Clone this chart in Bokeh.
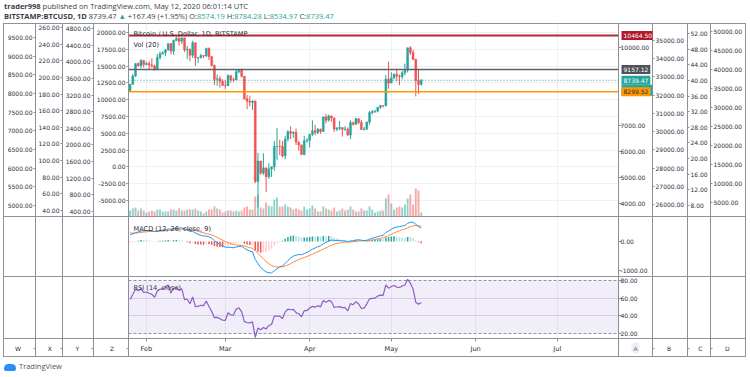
from datetime import datetime, timedelta
from bokeh.plotting import figure
from bokeh.models import (Range1d, LinearAxis, FixedTicker, Grid, PrintfTickFormatter,
                          Label, Span, BoxAnnotation, Div, ColumnDataSource)
from bokeh.layouts import column
from bokeh.embed import file_html
from bokeh.resources import INLINE

# ---------------- data (BITSTAMP:BTCUSD, 1D, 26 Jan - 12 May 2020) ----------------
first_day = datetime(2020, 1, 26)
dates = [first_day + timedelta(days=i) for i in range(108)]

opens = [8340, 8590, 8900, 9380, 9300, 9500, 9350, 9380, 9330, 9290,
         9180, 9620, 9760, 9800, 9900, 10150, 9860, 10270, 10350, 10240,
         10370, 9900, 9930, 9700, 10180, 9600, 9610, 9690, 9670, 9970,
         9650, 9310, 8780, 8800, 8700, 8540, 8530, 8920, 8760, 8750,
         9070, 9150, 8890, 8030, 7930, 7890, 7940, 4850, 5630, 5170,
         5370, 5030, 5330, 5410, 6190, 6200, 6190, 5830, 6480, 6760,
         6700, 6740, 6370, 6250, 5880, 6410, 6430, 6650, 6800, 6730,
         6860, 6770, 7330, 7200, 7370, 7290, 6860, 6890, 6920, 6850,
         6860, 6630, 7110, 7040, 7260, 7120, 6850, 6860, 7130, 7500,
         7540, 7550, 7700, 7770, 7760, 8780, 8630, 8830, 8970, 8900,
         8880, 9030, 9150, 9990, 9810, 9540, 8730, 8574.19]
highs = [8600, 8980, 9390, 9430, 9560, 9520, 9450, 9470, 9590, 9340,
         9750, 9850, 9870, 9950, 10150, 10170, 10300, 10460, 10464.5, 10390,
         10380, 10060, 9960, 10260, 10200, 9640, 9760, 9700, 9990, 10000,
         9660, 9340, 8960, 8900, 8780, 8740, 8970, 8920, 8840, 9150,
         9170, 9190, 8890, 8180, 8150, 7970, 7960, 5950, 5650, 5930,
         5380, 5550, 5420, 6400, 6900, 6450, 6400, 6600, 6830, 6970,
         6780, 6880, 6380, 6260, 6600, 6520, 6680, 7200, 7030, 6900,
         6880, 7350, 7450, 7420, 7380, 7300, 6950, 7180, 6920, 6980,
         6930, 7200, 7150, 7300, 7260, 7210, 6950, 7150, 7560, 7600,
         7600, 7700, 7790, 7780, 8950, 9460, 9050, 9000, 9180, 8960,
         9100, 9380, 9990, 10050, 9910, 9570, 9170, 8784.28]
lows = [8290, 8560, 8870, 9260, 9200, 9230, 9310, 9150, 9220, 9100,
        9160, 9530, 9720, 9670, 9880, 9740, 9710, 10250, 10080, 10130,
        9830, 9550, 9470, 9600, 9300, 9400, 9580, 9590, 9650, 9520,
        9270, 8560, 8530, 8450, 8510, 8410, 8520, 8650, 8670, 8750,
        9010, 8850, 8000, 7630, 7730, 7600, 4780, 3850, 5100, 5100,
        4440, 4950, 5020, 5260, 5680, 5860, 5770, 5700, 6380, 6480,
        6530, 6250, 6030, 5870, 5860, 6340, 6160, 6600, 6620, 6670,
        6680, 6770, 7080, 7150, 7150, 6750, 6780, 6810, 6570, 6800,
        6610, 6480, 7000, 7030, 7060, 6830, 6800, 6840, 7040, 7420,
        7480, 7500, 7640, 7690, 7740, 8420, 8630, 8780, 8700, 8550,
        8780, 8930, 9040, 9720, 9520, 8120, 8210, 8534.97]
closes = [8590, 8900, 9380, 9300, 9500, 9350, 9380, 9330, 9290, 9180,
          9620, 9760, 9800, 9900, 10150, 9860, 10270, 10350, 10240, 10370,
          9900, 9930, 9700, 10180, 9600, 9610, 9690, 9670, 9970, 9650,
          9310, 8780, 8800, 8700, 8540, 8530, 8920, 8760, 8750, 9070,
          9150, 8890, 8030, 7930, 7890, 7940, 4850, 5630, 5170, 5370,
          5030, 5330, 5410, 6190, 6200, 6190, 5830, 6480, 6760, 6700,
          6740, 6370, 6250, 5880, 6410, 6430, 6650, 6800, 6730, 6860,
          6770, 7330, 7200, 7370, 7290, 6860, 6890, 6920, 6850, 6860,
          6630, 7110, 7040, 7260, 7120, 6850, 6860, 7130, 7500, 7540,
          7550, 7700, 7770, 7760, 8780, 8630, 8830, 8970, 8900, 8880,
          9030, 9150, 9990, 9810, 9540, 8730, 8574.19, 8739.47]
volumes = [6000, 8000, 9000, 6000, 8000, 6000, 4000, 5000, 6000, 5000,
           7000, 7000, 5000, 5000, 5000, 7000, 7000, 6000, 8000, 6000,
           6000, 7000, 7000, 7000, 8000, 6000, 5000, 3000, 5000, 7000,
           7000, 10000, 8000, 7000, 4000, 5000, 6000, 6000, 5000, 6000,
           5000, 6000, 9000, 10000, 7000, 7000, 20000, 22000, 9000, 8000,
           14000, 11000, 10000, 17000, 19000, 10000, 10000, 12000, 10000, 9000,
           7000, 8000, 7000, 6000, 10000, 7000, 8000, 11000, 8000, 5000,
           5000, 10000, 8000, 7000, 6000, 9000, 5000, 6000, 8000, 6000,
           7000, 10000, 7000, 5000, 5000, 8000, 6000, 6000, 10000, 7000,
           4000, 5000, 6000, 6000, 18000, 22000, 13000, 7000, 9000, 10000,
           9000, 12000, 18000, 22000, 12000, 28000, 26000, 4000]
macd = [244, 258, 304, 331, 364, 374, 379, 375, 365, 344,
        358, 377, 390, 404, 431, 423, 446, 464, 465, 470,
        432, 399, 350, 347, 293, 249, 218, 190, 189, 161,
        110, 27, -37, -95, -152, -196, -197, -208, -215, -193,
        -167, -165, -231, -287, -332, -358, -622, -759, -895, -975,
        -1053, -1079, -1081, -1007, -937, -873, -841, -755, -656, -576,
        -504, -471, -449, -457, -415, -376, -324, -267, -225, -180,
        -149, -78, -33, 17, 49, 40, 34, 32, 24, 19,
        -4, 16, 26, 52, 60, 44, 32, 43, 81, 113,
        138, 168, 195, 213, 306, 364, 420, 471, 500, 516,
        534, 552, 626, 663, 663, 591, 515, 463]
signal = [300, 291, 294, 301, 314, 326, 336, 344, 348, 348,
          350, 355, 362, 371, 383, 391, 402, 414, 424, 433,
          433, 426, 411, 398, 377, 352, 325, 298, 276, 253,
          225, 185, 141, 93, 44, -4, -42, -75, -103, -121,
          -130, -137, -156, -182, -212, -241, -317, -406, -504, -598,
          -689, -767, -830, -865, -880, -878, -871, -848, -809, -763,
          -711, -663, -620, -587, -553, -518, -479, -437, -394, -351,
          -311, -264, -218, -171, -127, -94, -68, -48, -34, -23,
          -19, -12, -4, 7, 17, 23, 24, 28, 39, 54,
          71, 90, 111, 131, 166, 206, 249, 293, 335, 371,
          404, 433, 472, 510, 541, 551, 543, 527]
histogram = [-56, -33, 10, 30, 50, 48, 43, 31, 17, -4,
             8, 22, 28, 33, 48, 32, 44, 50, 41, 37,
             -1, -27, -61, -51, -84, -103, -107, -108, -87, -92,
             -115, -158, -178, -188, -196, -192, -155, -133, -112, -72,
             -37, -28, -75, -105, -120, -117, -305, -353, -391, -377,
             -364, -312, -251, -142, -57, 5, 30, 93, 153, 187,
             207, 192, 171, 130, 138, 142, 155, 170, 169, 171,
             162, 186, 185, 188, 176, 134, 102, 80, 58, 42,
             15, 28, 30, 45, 43, 21, 8, 15, 42, 59,
             67, 78, 84, 82, 140, 158, 171, 178, 165, 145,
             130, 119, 154, 153, 122, 40, -28, -64]
rsi = [58.6, 64.1, 70.5, 68.3, 70.8, 66.6, 67.0, 65.5, 64.3, 61.0,
       68.1, 70.0, 70.6, 71.9, 75.0, 65.9, 71.2, 72.1, 68.9, 70.6,
       58.3, 58.8, 53.6, 61.3, 50.4, 50.6, 51.9, 51.6, 56.7, 50.5,
       44.9, 37.9, 38.3, 37.0, 35.0, 34.9, 43.5, 41.1, 40.9, 47.6,
       49.1, 44.5, 33.4, 32.4, 32.0, 33.1, 15.5, 26.2, 24.2, 26.8,
       25.2, 29.1, 30.2, 39.6, 39.7, 39.6, 36.8, 44.5, 47.5, 46.9,
       47.3, 43.6, 42.4, 38.9, 45.8, 46.0, 48.8, 50.7, 49.8, 51.5,
       50.2, 57.4, 55.4, 57.5, 56.1, 49.5, 50.0, 50.4, 49.3, 49.4,
       45.5, 53.8, 52.6, 56.0, 53.4, 48.5, 48.7, 53.6, 59.3, 59.8,
       60.0, 62.3, 63.4, 63.1, 74.9, 71.3, 73.2, 74.4, 72.6, 72.1,
       73.7, 74.9, 81.4, 76.8, 70.4, 55.3, 53.0, 55.2]

# horizontal levels and price tags on the A scale
level_red = 10464.50
level_grey = 9157.12
level_orange = 8299.52
last_price = 8739.47
countdown = "17:58:48"

# ticks of the scale columns
w_ticks = list(range(5000, 9501, 500))
x_ticks = list(range(40, 261, 20))
y_ticks = list(range(400, 4801, 400))
z_ticks = list(range(-5000, 20001, 2500))
a_ticks = [4000, 5000, 6000, 7000, 10000]
b_ticks = list(range(26000, 35001, 1000))
c_ticks = list(range(8, 53, 4))
d_ticks = list(range(5000, 50001, 5000))
macd_ticks = [-1000, 0]
rsi_ticks = [20, 40, 60, 80]
rsi_band = (20, 80)
month_starts = [datetime(2020, m, 1) for m in (2, 3, 4, 5, 6, 7)]
month_labels = ["Feb", "Mar", "Apr", "May", "Jun", "Jul"]

# ---------------- style / geometry ----------------
FONT = "DejaVu Sans"
FS = "6px"
AXC = "#8c8f98"
LINE = "#8f929b"
TXC = "#2a2e39"
UP, DN = "#26a69a", "#ef5350"
GRID = "#eef0f4"
EPOCH = datetime(1970, 1, 1)
DAY = 86400000.0


def ms(d):
    return (d - EPOCH).total_seconds() * 1000.0


t = [ms(d) for d in dates]
FIG_W, FIG_H = 747, 334
LB, RB = 128, 95
PLOT_PX, APX = 490, 34            # candle area width, A-column width (inside the frame)
TOP, BOT = 23, 357                # page y of the frame edges; the default y range is page y
SEP_MACD, SEP_RSI, SEP_AXIS = 216, 276, 338
ROW_Y = 347.5
x_lo, x_hi = ms(datetime(2020, 1, 25, 10)), ms(datetime(2020, 7, 23, 12))
KPX = (x_hi - x_lo) / PLOT_PX


def span_range(v0, y0, s):
    """range over the whole frame height with value v0 at page-y y0, s px per unit"""
    return Range1d(start=v0 - (BOT - y0) / s, end=v0 + (y0 - TOP) / s)


def at_row(rng, y):
    return rng.end - (y - TOP) / (BOT - TOP) * (rng.end - rng.start)


def row_of(rng, v):
    return TOP + (rng.end - v) / (rng.end - rng.start) * (BOT - TOP)


R = {"price": span_range(4000, 203, 0.026), "vol": span_range(0, 216, 0.001),
     "z": span_range(20000, 32, 0.00672), "w": span_range(9500, 37, 0.03733),
     "x": span_range(260, 27, 0.8318), "y": span_range(4800, 28, 0.04159),
     "b": span_range(35000, 40, 0.018222), "c": span_range(52, 33, 3.909),
     "d": span_range(50000, 31, 0.0038), "macd": span_range(0, 241, 0.029),
     "rsi": span_range(80, 280, 0.8833)}

p = figure(width=FIG_W, height=FIG_H, x_range=Range1d(x_lo, x_hi + APX * KPX),
           y_range=Range1d(BOT, TOP), x_axis_type="datetime", x_axis_location="below",
           y_axis_location=None, output_backend="svg", toolbar_location=None,
           min_border_left=LB, min_border_right=RB, min_border_top=0, min_border_bottom=0)
p.extra_y_ranges = R
p.background_fill_color = "white"
p.border_fill_color = None
p.outline_line_color = LINE
p.ygrid.grid_line_color = None
p.xgrid.ticker = FixedTicker(ticks=[ms(d) for d in month_starts])
p.xgrid.grid_line_color = GRID
p.xgrid.cross_bounds = (TOP, SEP_AXIS)

# border lines of the scale columns (page background behind the transparent border area)
lay = ["linear-gradient(%s,%s) 3px %dpx / 743px 1px no-repeat" % (LINE, LINE, y - TOP)
       for y in (TOP, SEP_MACD, SEP_RSI, SEP_AXIS, BOT - 1)]
lay += ["linear-gradient(%s,%s) %dpx 0 / 1px 100%% no-repeat" % (LINE, LINE, x) for x in (3, 745)]
p.styles = {"background": ", ".join(lay) + ", white"}


def style(ax):
    ax.major_label_text_font = FONT
    ax.major_label_text_font_size = FS
    ax.major_label_text_color = TXC
    ax.major_tick_in = 0
    ax.major_tick_out = 2
    ax.minor_tick_in = 0
    ax.minor_tick_out = 0
    ax.minor_tick_line_color = None
    ax.major_tick_line_color = AXC
    ax.axis_line_color = AXC
    ax.major_label_standoff = 1


def side_axis(side, rname, ticks, letter):
    rng = R[rname]
    tk = [float(v) for v in ticks]
    lv = at_row(rng, ROW_Y)
    tk.append(lv)
    ax = LinearAxis(y_range_name=rname, ticker=FixedTicker(ticks=tk),
                    formatter=PrintfTickFormatter(format="%.2f"),
                    major_label_overrides={lv: letter})
    style(ax)
    p.add_layout(ax, side)
    return ax


FSP = "\u2007"
side_axis("left", "z", z_ticks, "Z" + FSP * 3)
side_axis("left", "y", y_ticks, "Y" + FSP * 3)
side_axis("left", "x", x_ticks, "X" + FSP * 2)
side_axis("left", "w", w_ticks, "W" + FSP * 3)

# A column lives inside the frame (right of the candle area); its labels hang left of its edge
a_tk = [float(v) for v in a_ticks]
a_ov = {}
for rname, vals in (("macd", macd_ticks), ("rsi", rsi_ticks)):
    for v in vals:
        pv = at_row(R["price"], row_of(R[rname], v))
        a_tk.append(pv)
        a_ov[pv] = "%.2f" % v
a_ax = LinearAxis(y_range_name="price", ticker=FixedTicker(ticks=a_tk),
                  formatter=PrintfTickFormatter(format="%.2f"), major_label_overrides=a_ov)
style(a_ax)
a_ax.major_tick_out = 0
a_ax.major_tick_line_color = None
a_ax.major_label_standoff = -32
p.add_layout(a_ax, "right")
side_axis("right", "b", b_ticks, FSP * 3 + "B")
side_axis("right", "c", c_ticks, FSP * 2 + "C")
side_axis("right", "d", d_ticks, FSP * 3 + "D")
p.add_layout(Grid(dimension=1, ticker=FixedTicker(ticks=a_tk), y_range_name="price",
                  cross_bounds=(x_hi, x_hi + 3 * KPX), grid_line_color=AXC))
p.add_layout(Span(location=x_hi, dimension="height", line_color=AXC, line_width=1))

# time axis: labels drawn up into the bottom row of the frame
xa = p.xaxis[0]
xa.ticker = FixedTicker(ticks=[ms(d) for d in month_starts])
xa.major_label_overrides = {ms(d): lab for d, lab in zip(month_starts, month_labels)}
xa.major_label_text_font = FONT
xa.major_label_text_font_size = "6.6px"
xa.major_label_text_color = TXC
xa.axis_line_color = None
xa.major_tick_line_color = None
xa.minor_tick_line_color = None
xa.major_tick_in = 0
xa.major_tick_out = 0
xa.major_label_standoff = -13
p.add_layout(Grid(dimension=0, ticker=FixedTicker(ticks=[ms(d) for d in month_starts]),
                  cross_bounds=(SEP_AXIS, SEP_AXIS + 3), grid_line_color=AXC))

# pane separators inside the frame
for sy in (SEP_MACD, SEP_RSI, SEP_AXIS):
    p.add_layout(Span(location=sy, dimension="width", line_color=LINE, line_width=1))

# ---------------- main pane ----------------
p.add_layout(Grid(dimension=1, ticker=FixedTicker(ticks=z_ticks), y_range_name="z",
                  cross_bounds=(x_lo, x_hi), grid_line_color=GRID))
col = [UP if c >= o else DN for o, c in zip(opens, closes)]
src = ColumnDataSource(dict(t=t, o=opens, h=highs, l=lows, c=closes, v=volumes, col=col,
                            top=[max(o, c) for o, c in zip(opens, closes)],
                            bot=[min(o, c) for o, c in zip(opens, closes)]))
p.vbar(x="t", width=0.7 * DAY, top="v", bottom=0, source=src, y_range_name="vol",
       fill_color="col", line_color=None, fill_alpha=0.5)
p.segment(x0="t", y0="h", x1="t", y1="l", source=src, y_range_name="price",
          line_color="col", line_width=1)
p.vbar(x="t", width=0.7 * DAY, top="top", bottom="bot", source=src, y_range_name="price",
       fill_color="col", line_color="col", line_width=0.5)


def level(y, color, width, dash="solid", rname="price"):
    p.segment(x0=[x_lo], y0=[y], x1=[x_hi], y1=[y], y_range_name=rname,
              line_color=color, line_width=width, line_dash=dash)


level(level_red, "#b22833", 2)
level(level_grey, "#5d606b", 1.5)
level(last_price, UP, 1, "1 2")
level(level_orange, "#ff9800", 1.5)


def tag(y, text, bg, fg="white", yoff=0):
    p.add_layout(Label(x=x_hi, y=y, y_range_name="price", x_offset=3, y_offset=yoff, text=text,
                       text_font=FONT, text_font_size=FS, text_color=fg,
                       text_align="left", text_baseline="middle",
                       background_fill_color=bg, padding=2))


tag(level_red, "10464.50", "#b2182b")
tag(level_grey, "9157.12", "#4f525d")
tag(last_price, "8739.47", UP)
tag(last_price, countdown, UP, yoff=-10)
tag(level_orange, "8299.52", "#ff9800", fg="#2a2e39")


def pane_title(y, text):
    p.add_layout(Label(x=x_lo, y=y, x_offset=5, text=text, text_font=FONT,
                       text_font_size="6.6px", text_color=TXC,
                       text_align="left", text_baseline="middle"))


pane_title(33, "Bitcoin / U.S. Dollar, 1D, BITSTAMP")
pane_title(44, "Vol (20)")
pane_title(228, "MACD (12, 26, close, 9)")
pane_title(287, "RSI (14, close)")

# ---------------- MACD pane ----------------
hcol = []
for i, hv in enumerate(histogram):
    prev = histogram[i - 1] if i else hv
    if hv >= 0:
        hcol.append("#26a69a" if hv >= prev else "#b2dfdb")
    else:
        hcol.append("#ef5350" if hv < prev else "#ffcdd2")
msrc = ColumnDataSource(dict(t=t, m=macd, s=signal, h=histogram, hc=hcol))
p.vbar(x="t", width=0.55 * DAY, top="h", bottom=0, source=msrc, y_range_name="macd",
       fill_color="hc", line_color=None)
p.line("t", "s", source=msrc, y_range_name="macd", line_color="#ff8a3d", line_width=1)
p.line("t", "m", source=msrc, y_range_name="macd", line_color="#2196f3", line_width=1)

# ---------------- RSI pane ----------------
p.add_layout(Grid(dimension=1, ticker=FixedTicker(ticks=[40, 60]), y_range_name="rsi",
                  cross_bounds=(x_lo, x_hi), grid_line_color="#e3daf0"))
p.add_layout(BoxAnnotation(bottom=rsi_band[0], top=rsi_band[1], right=x_hi, y_range_name="rsi",
                           fill_color="#7e57c2", fill_alpha=0.1, line_color=None))
for lv in rsi_band:
    level(lv, "#9598a1", 1, "3 2", rname="rsi")
p.line(t, rsi, y_range_name="rsi", line_color="#8f5fc8", line_width=1.2)

# letter of the A column in the time-axis row
p.add_layout(Label(x=x_hi, y=ROW_Y, x_offset=APX / 2, text="A", text_font=FONT,
                   text_font_size="6px", text_color="#6a6d78", text_align="center",
                   text_baseline="middle", background_fill_color="#eceef3",
                   padding=2, border_radius=5))

# ---------------- header / footer ----------------
teal = "color:#26a69a"
hdr = Div(width=750, height=TOP, margin=(0, 0, 0, 0), text=(
    "<div style=\"font-family:'Open Sans';font-size:7.5px;line-height:10px;color:#3b3e47;"
    "white-space:nowrap;padding:1px 0 0 4px\">"
    "<b>trader998</b> published on TradingView.com, May 12, 2020 06:01:14 UTC<br>"
    "<b>BITSTAMP:BTCUSD, 1D</b> 8739.47 <span style='" + teal + "'>&#9650;</span> +167.49 (+1.95%) "
    "O:<span style='" + teal + "'>8574.19</span> H:<span style='" + teal + "'>8784.28</span> "
    "L:<span style='" + teal + "'>8534.97</span> C:<span style='" + teal + "'>8739.47</span></div>"))
ftr = Div(width=750, height=17, margin=(0, 0, 0, 0), text=(
    "<div style=\"font-family:'Open Sans';font-size:7.5px;line-height:12px;color:#50535e;"
    "padding:3px 0 0 4px\">"
    "<span style='display:inline-block;width:12px;height:7px;background:#2a8df2;"
    "border-radius:5px 5px 3px 3px;vertical-align:middle;margin-right:3px'></span>TradingView</div>"))

layout = column(hdr, p, ftr, spacing=0)
open("out.html", "w").write(file_html(layout, INLINE))
